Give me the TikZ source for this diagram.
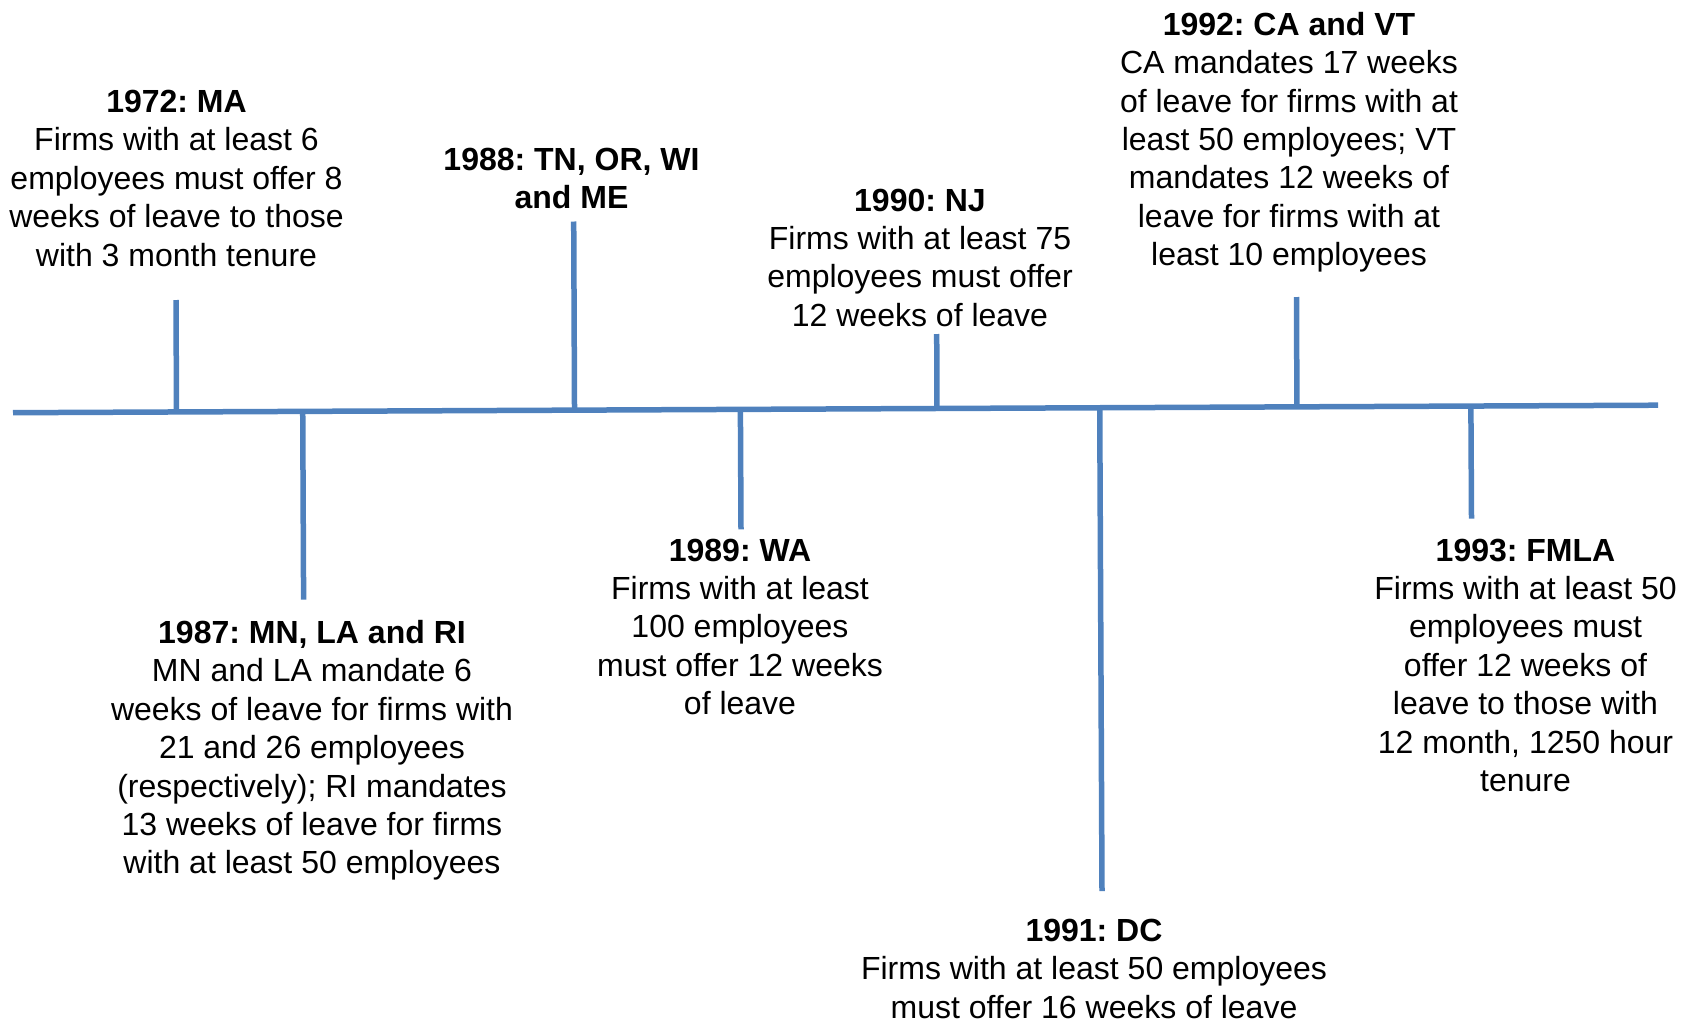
\documentclass[tikz,border=0pt]{standalone}
\usepackage{fontspec}
\setmainfont{Liberation Sans}
\usepackage{xcolor}
\usetikzlibrary{calc}
\frenchspacing
\definecolor{bleu}{HTML}{4F81BD}
\tikzstyle{axe}=[line width=5.5pt, bleu]
\tikzstyle{evenement}=[align=center, inner sep=0pt, anchor=north, font=\fontsize{32}{38.4}\selectfont]

\begin{document}
\begin{tikzpicture}[x=1pt,y=-1pt]
\useasboundingbox (0,0) rectangle (1694,1020);

% axe du temps
\coordinate (debut) at (13,412.7);
\coordinate (fin) at (1658,405.2);
\draw[axe] (debut) -- (fin);

% jalons au-dessus
\coordinate (t72) at (176,300);
\coordinate (t88) at (573.7,221.5);
\coordinate (t90) at (936.7,334);
\coordinate (t92) at (1296.5,297);
\foreach \t in {t72,t88,t90,t92}
  \draw[axe] (\t) -- ($(debut)!(\t)!(fin)$);

% jalons au-dessous
\coordinate (t87) at (303.6,599.6);
\coordinate (t89) at (741,529.4);
\coordinate (t91) at (1102,891);
\coordinate (t93) at (1471.5,518.6);
\foreach \t in {t87,t89,t91,t93}
  \draw[axe] (\t) -- ($(debut)!(\t)!(fin)$);

% textes
\node[evenement] (ma) at (176.5,90) {\textbf{1972: MA}\\Firms with at least 6\\employees must offer 8\\weeks of leave to those\\with 3 month tenure};
\node[evenement] (tn) at (571.5,147.5) {\textbf{1988: TN, OR, WI}\\\textbf{and ME}};
\node[evenement] (nj) at (920,188.5) {\textbf{1990: NJ}\\Firms with at least 75\\employees must offer\\12 weeks of leave};
\node[evenement] (cavt) at (1289,12) {\textbf{1992: CA and VT}\\CA mandates 17 weeks\\of leave for firms with at\\least 50 employees; VT\\mandates 12 weeks of\\leave for firms with at\\least 10 employees};

\node[evenement] (mn) at (312,620) {\textbf{1987: MN, LA and RI}\\MN and LA mandate 6\\weeks of leave for firms with\\21 and 26 employees\\(respectively); RI mandates\\13 weeks of leave for firms\\with at least 50 employees};
\node[evenement] (wa) at (740,538.5) {\textbf{1989: WA}\\Firms with at least\\100 employees\\must offer 12 weeks\\of leave};
\node[evenement] (dc) at (1094,919) {\textbf{1991: DC}\\Firms with at least 50 employees\\must offer 16 weeks of leave};
\node[evenement] (fmla) at (1525.5,538.5) {\textbf{1993: FMLA}\\Firms with at least 50\\employees must\\offer 12 weeks of\\leave to those with\\12 month, 1250 hour\\tenure};

\end{tikzpicture}
\end{document}
